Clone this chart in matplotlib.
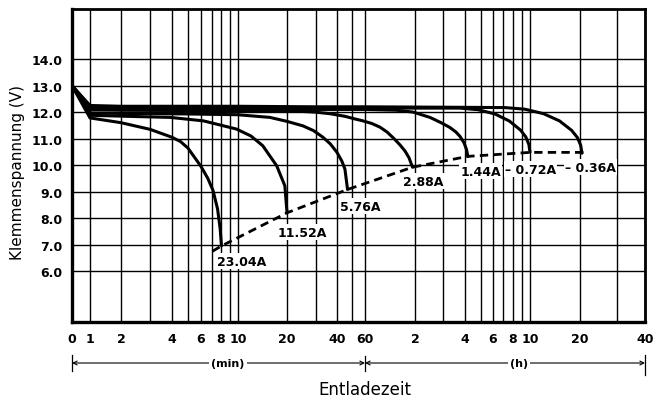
import numpy as np
import matplotlib
matplotlib.use("Agg")
import matplotlib.pyplot as plt

# Entladekurven, Zeit in Minuten, Spannung in V
t_0036 = [0, 1, 2, 5, 10, 30, 60, 120, 240, 431, 561, 724, 902, 1069, 1157, 1209, 1226]
v_0036 = [13.0, 12.25, 12.22, 12.22, 12.22, 12.2, 12.2, 12.19, 12.18, 12.17, 12.11, 11.94,
          11.67, 11.31, 11.04, 10.75, 10.45]
t_0072 = [0, 1, 2, 10, 60, 180, 225, 288, 371, 458, 530, 568, 591, 600]
v_0072 = [13.0, 12.2, 12.17, 12.16, 12.15, 12.15, 12.15, 12.09, 11.93, 11.66, 11.32, 11.06, 10.78, 10.49]
t_0144 = [0, 1, 2, 10, 60, 93, 117, 149, 175, 197, 213, 225, 237, 245, 250]
v_0144 = [13.0, 12.15, 12.12, 12.1, 12.1, 12.07, 12.0, 11.8, 11.6, 11.42, 11.25, 11.08, 10.84,
          10.59, 10.32]
t_0288 = [0, 1, 2, 10, 24, 29.5, 36.3, 45.1, 52.2, 58.2, 66, 73.9, 81.4, 89.7, 97.5, 104.5, 110.4, 115.9]
v_0288 = [13.0, 12.1, 12.07, 12.05, 12.03, 12.0, 11.94, 11.84, 11.74, 11.67, 11.57, 11.43, 11.25,
          11.0, 10.76, 10.53, 10.28, 9.92]
t_0576 = [0, 1, 2, 5, 10, 15.7, 20, 25, 29, 33, 36.5, 40, 43, 45, 46.8]
v_0576 = [13.0, 11.97, 11.95, 11.93, 11.9, 11.8, 11.65, 11.48, 11.3, 11.05, 10.8, 10.48, 10.15,
          9.85, 9.08]
t_1152 = [0, 1, 2.2, 3.9, 6.2, 9.8, 12, 14.2, 17.3, 19.4, 20]
v_1152 = [13.0, 11.88, 11.84, 11.8, 11.67, 11.36, 11.1, 10.73, 9.97, 9.22, 8.21]
t_2304 = [0, 1, 2, 3, 4, 4.5, 5, 6, 6.6, 7.1, 7.6, 7.9, 8.05]
v_2304 = [13.0, 11.78, 11.6, 11.35, 11.05, 10.89, 10.64, 9.95, 9.5, 9.05, 8.35, 7.6, 6.95]

# Entladeschlussspannung (gestrichelt)
t_end = [7.05, 8.05, 20, 46.8, 115.9, 250, 600, 1290]
v_end = [6.75, 6.95, 8.2, 9.08, 9.92, 10.33, 10.48, 10.48]

# Beschriftungen der Kurven (Zeit, Spannung, Text)
label_t = [7.55, 17.6, 41.8, 101.6, 225, 431, 975]
label_v = [6.38, 7.47, 8.45, 9.4, 9.77, 9.85, 9.92]
label_txt = ["23.04A", "11.52A", "5.76A", "2.88A", "1.44A", "– 0.72A", "– 0.36A"]

# Achsbeschriftung Zeit
major_min = [0, 1, 2, 4, 6, 8, 10, 20, 40, 60, 120, 240, 360, 480, 600, 1200, 2400]
major_lbl = ["0", "1", "2", "4", "6", "8", "10", "20", "40", "60", "2", "4", "6", "8", "10", "20", "40"]
minor_min = [3, 5, 7, 9, 30, 50, 180, 300, 420, 540, 1800]
volt_ticks = [6, 7, 8, 9, 10, 11, 12, 13, 14]

# ungleichmaessige Zeitskala des Originals (Stuetzstellen)
KNOT_MIN = np.array([0, 1, 2, 3, 4, 5, 6, 7, 8, 9, 10, 20, 30, 40, 50, 60,
                     120, 180, 240, 300, 360, 420, 480, 540, 600, 1200, 1800, 2400], float)
KNOT_POS = np.array([72, 90, 121, 150, 172, 188, 201, 212, 221, 230, 238, 287, 316, 337, 352, 365,
                     415, 443, 465, 481, 493, 503, 513, 522, 530, 580, 617, 645], float)


def _u(t):
    t = np.asarray(t, float)
    return np.where(t < 1, t - 1, np.log10(np.maximum(t, 1)))


KNOT_U = _u(KNOT_MIN)


def fwd(t):
    return np.interp(_u(t), KNOT_U, KNOT_POS)


def inv(p):
    u = np.interp(np.asarray(p, float), KNOT_POS, KNOT_U)
    return np.where(u < 0, u + 1, 10 ** u)


fig = plt.figure(figsize=(6.63, 4.06), dpi=100)
ax = fig.add_axes([72 / 663, 83 / 406, 573 / 663, 313 / 406])
ax.set_xscale("function", functions=(fwd, inv))
ax.set_xlim(0, 2400)
ax.set_ylim(4.08, 15.89)

tick_font = dict(family="DejaVu Sans", weight="bold", size=9)

ax.set_xticks(major_min)
ax.set_xticklabels(major_lbl, **tick_font)
ax.set_xticks(minor_min, minor=True)
ax.set_yticks(volt_ticks)
ax.set_yticklabels([f"{v:.1f}" for v in volt_ticks], **tick_font)
ax.tick_params(axis="both", which="both", length=0)
ax.tick_params(axis="x", pad=7)
ax.tick_params(axis="y", pad=7)
ax.grid(True, which="both", axis="x", color="black", lw=1.0)
ax.grid(True, axis="y", color="black", lw=1.0)
ax.set_axisbelow(True)
for sp in ax.spines.values():
    sp.set_linewidth(2.0)
ax.spines["left"].set_linewidth(2.4)
ax.spines["bottom"].set_linewidth(2.4)

curves = [(t_0036, v_0036), (t_0072, v_0072), (t_0144, v_0144), (t_0288, v_0288),
          (t_0576, v_0576), (t_1152, v_1152), (t_2304, v_2304)]
for t, v in curves:
    ax.plot(t, v, color="black", lw=2.2, solid_joinstyle="round", solid_capstyle="round", zorder=4)

ax.plot(t_end, v_end, color="black", lw=2.0, ls=(0, (3, 1.9)), zorder=4)

for t, v, s in zip(label_t, label_v, label_txt):
    ax.text(t, v, s, ha="left", va="center", zorder=3, **tick_font,
            bbox=dict(facecolor="white", edgecolor="none", pad=1.0))

# Zeitbereiche unter der Achse
trans = ax.get_xaxis_transform()
y_arr = -0.131
ax.annotate("", xy=(0, y_arr), xytext=(60, y_arr), xycoords=trans, textcoords=trans,
            arrowprops=dict(arrowstyle="<->", lw=0.8, color="black", shrinkA=0, shrinkB=0,
                            mutation_scale=7))
ax.annotate("", xy=(60, y_arr), xytext=(2400, y_arr), xycoords=trans, textcoords=trans,
            arrowprops=dict(arrowstyle="<->", lw=0.8, color="black", shrinkA=0, shrinkB=0,
                            mutation_scale=7))
ax.plot([0, 0], [-0.105, -0.155], transform=trans, color="black", lw=0.9, clip_on=False)
ax.plot([60, 60], [-0.11, -0.155], transform=trans, color="black", lw=0.9, clip_on=False)
ax.plot([2400, 2400], [-0.105, -0.17], transform=trans, color="black", lw=0.9, clip_on=False)
ax.text(0.272, y_arr, "(min)", transform=ax.transAxes, ha="center", va="center",
        fontsize=8, weight="bold", bbox=dict(facecolor="white", edgecolor="none", pad=1.5))
ax.text(0.78, y_arr, "(h)", transform=ax.transAxes, ha="center", va="center",
        fontsize=8, weight="bold", bbox=dict(facecolor="white", edgecolor="none", pad=1.5))

fig.text(0.551, 0.039, "Entladezeit", ha="center", va="center", fontsize=12)
fig.text(18 / 663, 0.574, "Klemmenspannung (V)", ha="center", va="center",
         rotation=90, fontsize=11)

fig.savefig("out.png", dpi=100)
plt.close(fig)
